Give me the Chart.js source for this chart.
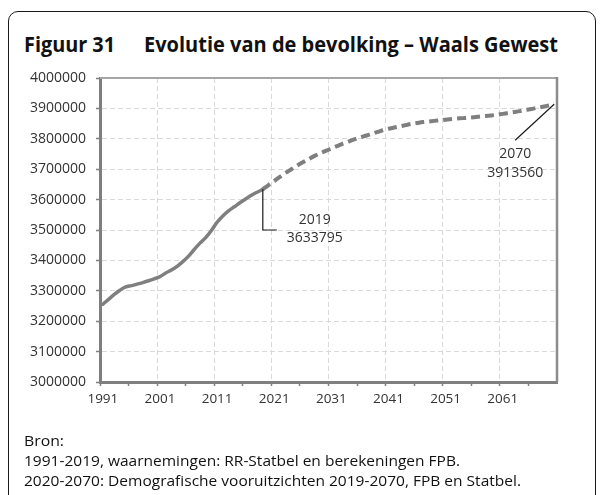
<!DOCTYPE html>
<html>
<head>
<meta charset="utf-8">
<script src="https://cdn.jsdelivr.net/npm/chart.js@4.4.1/dist/chart.umd.min.js"></script>
<style>
  html,body{margin:0;padding:0;background:#fff;}
  body{width:600px;height:495px;overflow:hidden;position:relative;font-family:"Open Sans",sans-serif;}
  #frame{position:absolute;left:8px;top:11px;width:588px;height:520px;border:1px solid #1a1a1a;border-radius:10px;box-sizing:border-box;}
  .t{position:absolute;white-space:nowrap;display:inline-block;line-height:1;transform-origin:0 0;color:#111;}
  .title{font-weight:bold;font-size:22px;}
  .src{font-size:14px;}
  #wrap{position:absolute;left:0;top:0;width:600px;height:495px;}
</style>
</head>
<body>
<div id="frame"></div>
<span class="t title" style="left:24px;top:32px" data-w="91">Figuur 31</span>
<span class="t title" style="left:144px;top:32px" data-w="414">Evolutie van de bevolking – Waals Gewest</span>
<div id="wrap"><canvas id="c" width="600" height="495"></canvas></div>
<span class="t src" style="left:24px;top:434px" data-w="40">Bron:</span>
<span class="t src" style="left:24px;top:454px" data-w="436">1991-2019, waarnemingen: RR-Statbel en berekeningen FPB.</span>
<span class="t src" style="left:24px;top:474px" data-w="497">2020-2070: Demografische vooruitzichten 2019-2070, FPB en Statbel.</span>
<script>
// ---- data ----
const years = ['1991','1992','1993','1994','1995','1996','1997','1998','1999','2000',
  '2001','2002','2003','2004','2005','2006','2007','2008','2009','2010',
  '2011','2012','2013','2014','2015','2016','2017','2018','2019','2020',
  '2021','2022','2023','2024','2025','2026','2027','2028','2029','2030',
  '2031','2032','2033','2034','2035','2036','2037','2038','2039','2040',
  '2041','2042','2043','2044','2045','2046','2047','2048','2049','2050',
  '2051','2052','2053','2054','2055','2056','2057','2058','2059','2060',
  '2061','2062','2063','2064','2065','2066','2067','2068','2069','2070'];

// observations 1991-2019
const observed = [3255711,3272000,3288000,3302000,3312888,3317000,3322000,3327000,3333000,3339516,
  3346457,3358560,3368250,3380498,3395942,3413978,3435879,3456775,3475000,3498384,
  3525540,3546329,3563060,3576325,3589744,3602216,3614473,3624377,3633795];

// projection 2019-2070
const projected = [3633795,3648000,3661000,3675000,3688000,3700000,3712000,3723000,3733000,3743000,
  3752000,3760000,3768000,3776000,3784000,3791000,3798000,3804000,3810000,3816000,
  3822000,3828000,3833000,3837000,3841000,3845000,3849000,3852000,3855000,3857000,
  3859000,3861000,3863000,3865000,3866500,3868000,3869500,3871000,3873000,3875000,
  3877000,3879000,3882000,3885000,3888000,3891000,3895000,3898000,3902000,3905500,
  3909500,3913560];

const yMin = 3000000, yMax = 4000000, yStep = 100000;
const callout2019Level = 3500000;

// ---- build series ----
const obsData = years.map((y,i)=> i < observed.length ? observed[i] : null);
const projStart = years.indexOf('2019');
const projData = years.map((y,i)=> i >= projStart ? projected[i-projStart] : null);

const GRID = '#d9d9d9', AXIS = '#7f7f7f', LINE = '#7f7f7f';

const framePlugin = {
  id:'frameBox',
  beforeDatasetsDraw(chart){
    const a = chart.chartArea, ctx = chart.ctx;
    ctx.save();
    ctx.strokeStyle = '#a6a6a6'; ctx.lineWidth = 2;
    ctx.beginPath(); ctx.moveTo(a.left, a.top); ctx.lineTo(a.right, a.top); ctx.stroke();
    ctx.strokeStyle = '#8c8c8c'; ctx.lineWidth = 2.5;
    ctx.beginPath(); ctx.moveTo(a.right, a.top-1); ctx.lineTo(a.right, a.bottom); ctx.stroke();
    ctx.restore();
  }
};

const calloutPlugin = {
  id:'callouts',
  afterDatasetsDraw(chart){
    const xs = chart.scales.x, ys = chart.scales.y, ctx = chart.ctx;
    ctx.save();
    ctx.strokeStyle = '#1a1a1a'; ctx.lineWidth = 1.2;
    ctx.fillStyle = '#333'; ctx.font = '14px "Open Sans"';
    ctx.textAlign = 'center'; ctx.textBaseline = 'middle';
    // 2019
    const i1 = years.indexOf('2019');
    const v1 = observed[observed.length-1];
    const x1 = xs.getPixelForValue(i1), y1 = ys.getPixelForValue(v1);
    const yl = ys.getPixelForValue(callout2019Level);
    ctx.beginPath(); ctx.moveTo(x1, y1); ctx.lineTo(x1, yl); ctx.lineTo(x1+14, yl); ctx.stroke();
    ctx.fillText(years[i1], x1+52, yl-10);
    ctx.fillText(String(v1), x1+52, yl+8);
    // 2070
    const i2 = years.indexOf('2070');
    const v2 = projected[projected.length-1];
    const x2 = xs.getPixelForValue(i2), y2 = ys.getPixelForValue(v2);
    ctx.beginPath(); ctx.moveTo(x2, y2); ctx.lineTo(x2-39, y2+36); ctx.stroke();
    ctx.fillText(years[i2], x2-39, y2+50);
    ctx.fillText(String(v2), x2-39, y2+69);
    ctx.restore();
  }
};

new Chart(document.getElementById('c'), {
  type:'line',
  data:{
    labels: years,
    datasets:[
      {data: obsData, borderColor: LINE, borderWidth: 3.5, pointRadius: 0, tension: 0.3, fill:false, borderCapStyle:'round', borderJoinStyle:'round'},
      {data: projData, borderColor: LINE, borderWidth: 4, pointRadius: 0, tension: 0.3, fill:false, borderDash:[9,5], borderCapStyle:'butt'}
    ]
  },
  options:{
    responsive:false, animation:false, devicePixelRatio:1,
    layout:{padding:{left:0,right:43,top:78,bottom:0}},
    plugins:{legend:{display:false}, tooltip:{enabled:false}},
    scales:{
      x:{
        type:'category', offset:true,
        grid:{offset:true, color:(c)=> (c.index%10===0 ? GRID : 'rgba(0,0,0,0)'), lineWidth:1,
              tickColor:(c)=> (c.index%5===0 ? AXIS : 'rgba(0,0,0,0)'), tickLength:4, tickWidth:1.5},
        border:{display:true, color:AXIS, width:3, dash:[5,3]},
        ticks:{autoSkip:false, maxRotation:0, minRotation:0, padding:5, color:'#333',
               font:{family:'"Open Sans"', size:13.5},
               callback:(v,i)=> (i%10===0 ? years[i] : '')},
        afterFit(s){ s.height = 113; }
      },
      y:{
        min:yMin, max:yMax,
        grid:{color:GRID, lineWidth:1, tickColor:AXIS, tickLength:4, tickWidth:1.5},
        border:{display:true, color:AXIS, width:3, dash:[5,3]},
        ticks:{stepSize:yStep, padding:10, color:'#333', font:{family:'"Open Sans"', size:14},
               callback:(v)=> String(v)},
        afterFit(s){ s.width = 100; }
      }
    }
  },
  plugins:[framePlugin, calloutPlugin]
});

document.querySelectorAll('[data-w]').forEach(el=>{
  const w = el.getBoundingClientRect().width;
  el.style.transform = 'scaleX(' + (parseFloat(el.dataset.w)/w) + ')';
});
</script>
</body>
</html>
